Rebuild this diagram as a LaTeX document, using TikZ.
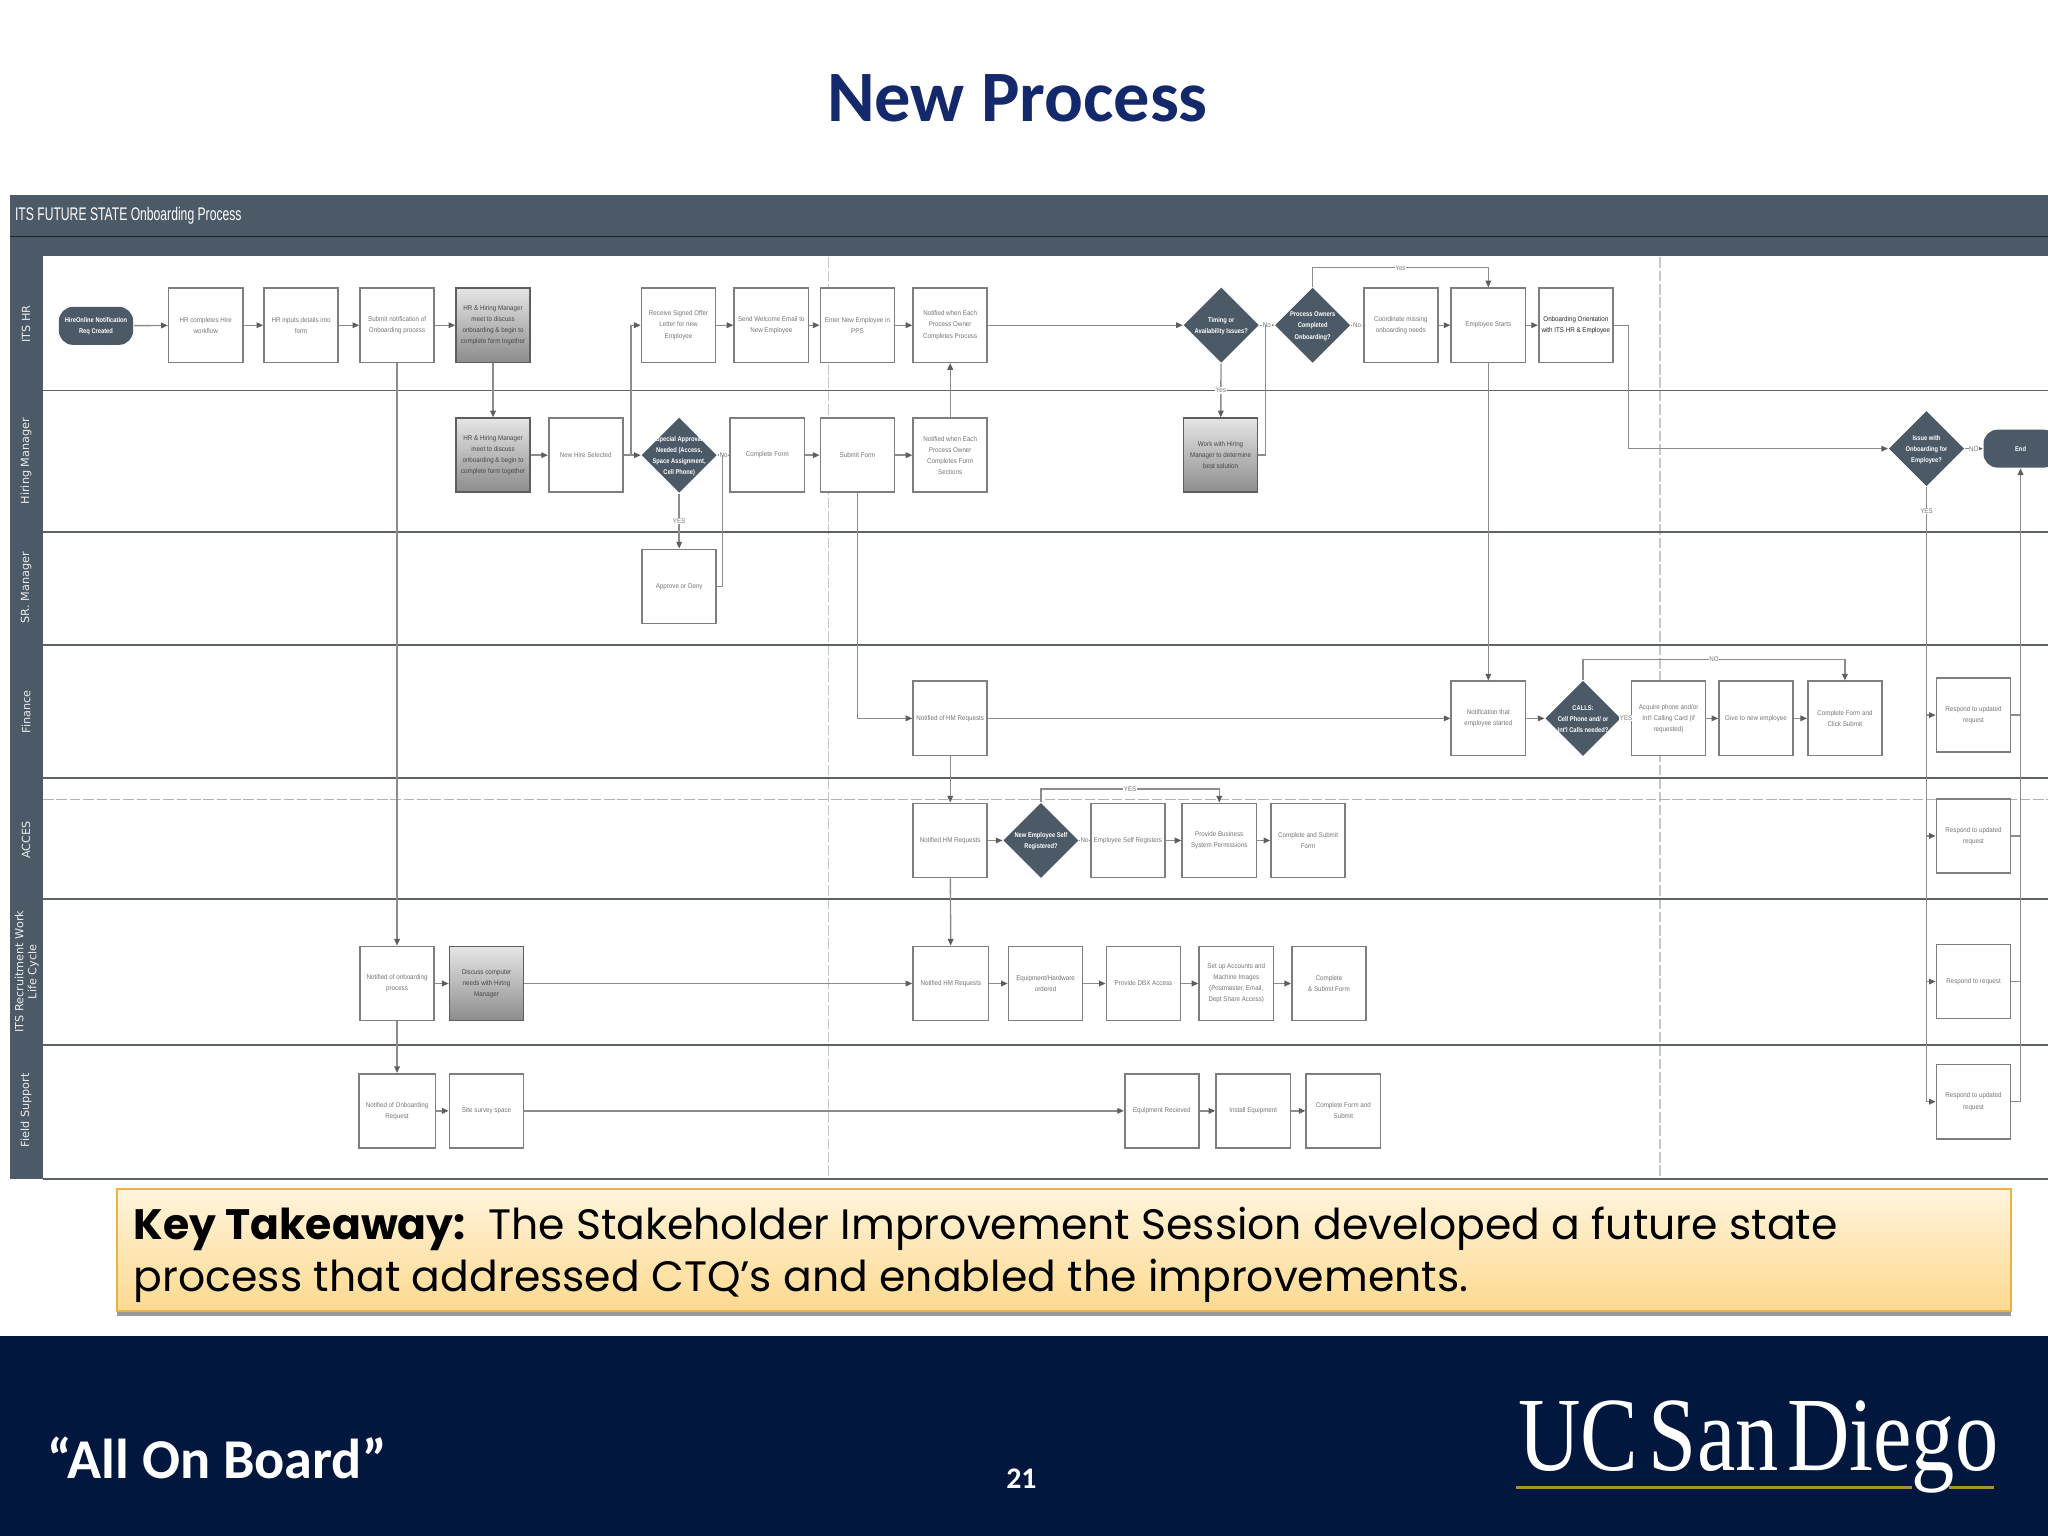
\documentclass[tikz,border=0pt]{standalone}
\usepackage{fontspec}
\usetikzlibrary{arrows.meta,shapes.geometric,shadows}
\newfontfamily\boxfont[FakeStretch=0.91]{Liberation Sans}
\newfontfamily\diafont[FakeStretch=0.84]{Liberation Sans}
\newfontfamily\lanefont{DejaVu Sans}
\newfontfamily\slidefont{Carlito}
\newfontfamily\headfont[FakeStretch=0.665]{Liberation Sans}
\newfontfamily\keyfont{Poppins}
\newfontfamily\logofont[FakeStretch=0.82]{Liberation Serif}
\definecolor{slatefill}{HTML}{4C5A68}
\definecolor{lanerule}{HTML}{5C6268}
\definecolor{flowline}{HTML}{8C8C8C}
\definecolor{flowtip}{HTML}{5E5E5E}
\definecolor{boxline}{HTML}{7E7E7E}
\definecolor{boxtext}{HTML}{757575}
\definecolor{navytitle}{HTML}{14296B}
\definecolor{navyfoot}{HTML}{02173E}
\definecolor{goldrule}{HTML}{AC8F2E}
\definecolor{keytop}{HTML}{FFF4DC}
\definecolor{keybottom}{HTML}{FDD98F}
\definecolor{keyline}{HTML}{E9B244}
\newcommand{\dtext}[1]{\makebox[0pt]{\smash{\raisebox{-1.4pt}{\begin{tabular}{@{}c@{}}#1\end{tabular}}}}}
\tikzset{
  procbox/.style={rectangle,draw=boxline,line width=0.45pt,fill=white,text=boxtext,
    minimum width=21.1pt,minimum height=21.1pt,inner sep=0pt,align=center,
    font=\boxfont\fontsize{1.95}{3.15}\selectfont},
  procgrey/.style={procbox,draw=flowtip,top color=black!10,bottom color=black!45,text=black!72},
  decision/.style={diamond,fill=slatefill,text=white,minimum width=21.5pt,minimum height=21.5pt,
    inner sep=0pt,font=\diafont\bfseries\fontsize{1.95}{3.15}\selectfont},
  termin/.style={rectangle,rounded corners=4pt,fill=slatefill,text=white,minimum width=21.1pt,
    minimum height=10.8pt,inner sep=0pt,align=center,font=\diafont\bfseries\fontsize{1.95}{3.15}\selectfont},
  flowlabel/.style={fill=white,text=boxtext,inner sep=0.2pt,font=\boxfont\fontsize{1.95}{3.15}\selectfont},
  lanename/.style={rotate=90,text=white!92!black,align=center,font=\lanefont\fontsize{3.2}{3.7}\selectfont},
  flow/.style={draw=flowline,line width=0.4pt,-{Triangle[length=1.9pt,width=1.6pt,fill=flowtip,color=flowtip]}},
  wire/.style={draw=flowline,line width=0.4pt}
}
\begin{document}
\begin{tikzpicture}[x=0.013061cm,y=-0.013061cm]
  \useasboundingbox (0,0) rectangle (1568,1176);
  \clip (0,0) rectangle (1568,1176);
  \fill[white] (0,0) rectangle (1568,1176);
  \node[text=navytitle,font=\slidefont\bfseries\fontsize{20.6}{25}\selectfont] (title) at (779,75) {New Process};
  \fill[slatefill] (8,149) rectangle (1568,903);
  \fill[white] (33,196) rectangle (1568,903);
  \draw[black!60!slatefill,line width=0.3pt] (8,181) -- (1568,181);
  \node[text=white,anchor=west,inner sep=0pt,font=\headfont\fontsize{5.2}{6}\selectfont] (flowtitle) at (11,165) {ITS FUTURE STATE Onboarding Process};
  \foreach \lx in {634.5,1271}
    \draw[black!22,line width=0.35pt,dash pattern=on 3pt off 0.8pt] (\lx,197) -- (\lx,903);
  \draw[black!30,line width=0.35pt,dash pattern=on 3pt off 0.8pt] (33,612) -- (1568,612);
  \foreach \ly in {299,407,494,596,688,800,903}
    \draw[lanerule,line width=0.55pt] (33,\ly) -- (1568,\ly);
  \draw
    (20,248) node[lanename] (laneHR) {ITS HR}
    (20,353) node[lanename] (laneHM) {Hiring Manager}
    (20,450) node[lanename] (laneSR) {SR. Manager}
    (20,545) node[lanename] (laneFin) {Finance}
    (20,643) node[lanename] (laneAcc) {ACCES}
    (20.5,744) node[lanename] (laneRec) {ITS Recruitment Work\\Life Cycle}
    (20,850) node[lanename] (laneField) {Field Support};
  \draw
    (73.5,249.5) node[termin] (start) {HireOnline Notification\\Req Created}
    (157.5,249) node[procbox] (hrA) {HR completes Hire\\workflow}
    (230.5,249) node[procbox] (hrB) {HR inputs details into\\form}
    (304,249) node[procbox] (hrC) {Submit notification of\\Onboarding process}
    (377.5,249) node[procgrey] (hrD) {HR \& Hiring Manager\\meet to discuss\\onboarding \& begin to\\complete form together}
    (519.5,249) node[procbox] (hrE) {Receive Signed Offer\\Letter for new\\Employee}
    (590.5,249) node[procbox] (hrF) {Send Welcome Email to\\New Employee}
    (656.5,249) node[procbox] (hrG) {Enter New Employee in\\PPS}
    (727.5,249) node[procbox] (hrH) {Notified when Each\\Process Owner\\Completes Process}
    (935,249) node[decision] (hrQa) {\dtext{Timing or\\Availability Issues?}}
    (1005,249) node[decision] (hrQb) {\dtext{Process Owners\\Completed\\Onboarding?}}
    (1072.5,249) node[procbox] (hrI) {Coordinate missing\\onboarding needs}
    (1139.5,249) node[procbox] (hrJ) {Employee Starts}
    (1206.5,249) node[procbox,text=black!85] (hrK) {Onboarding Orientation\\with ITS HR \& Employee};
  \draw
    (377.5,348.5) node[procgrey] (hmA) {HR \& Hiring Manager\\meet to discuss\\onboarding \& begin to\\complete form together}
    (448.5,348.5) node[procbox] (hmB) {New Hire Selected}
    (520,348.5) node[decision] (hmQa) {\dtext{Special Approval\\Needed (Access,\\Space Assignment,\\Cell Phone)}}
    (587.5,348.5) node[procbox] (hmC) {Complete Form}
    (656.5,348.5) node[procbox] (hmD) {Submit Form}
    (727.5,348.5) node[procbox] (hmE) {Notified when Each\\Process Owner\\Completes Form\\Sections}
    (934.5,348.5) node[procgrey] (hmF) {Work with Hiring\\Manager to determine\\best solution}
    (1475,343.5) node[decision] (hmQb) {\dtext{Issue with\\Onboarding for\\Employee?}}
    (1547,343.5) node[termin] (finish) {End};
  \draw
    (520,449) node[procbox] (srA) {Approve or Deny};
  \draw
    (727.5,550) node[procbox] (finA) {Notified of HM Requests}
    (1139.5,550) node[procbox] (finB) {Notification that\\employee started}
    (1212,550) node[decision] (finQ) {\dtext{CALLS:\\Cell Phone and/ or\\Int'l Calls needed?}}
    (1277.5,550) node[procbox] (finC) {Acquire phone and/or\\Int'l Calling Card (if\\requested)}
    (1344.5,550) node[procbox] (finD) {Give to new employee}
    (1412.5,550) node[procbox] (finE) {Complete Form and\\Click Submit}
    (1511,547.5) node[procbox] (respA) {Respond to updated\\request};
  \draw
    (727.5,643.5) node[procbox] (accA) {Notified HM Requests}
    (797,643.5) node[decision] (accQ) {\dtext{New Employee Self\\Registered?}}
    (863.5,643.5) node[procbox] (accB) {Employee Self Registers}
    (933.5,643.5) node[procbox] (accC) {Provide Business\\System Permissions}
    (1001.5,643.5) node[procbox] (accD) {Complete and Submit\\Form}
    (1511,640) node[procbox] (respB) {Respond to updated\\request};
  \draw
    (304,753) node[procbox] (recA) {Notified of onboarding\\process}
    (372.5,753) node[procgrey] (recB) {Discuss computer\\needs with Hiring\\Manager}
    (728,753) node[procbox,minimum width=21.5pt] (recC) {Notified HM Requests}
    (800.5,753) node[procbox] (recD) {Equipment/Hardware\\ordered}
    (875.5,753) node[procbox] (recE) {Provide DBX Access}
    (946.5,753) node[procbox] (recF) {Set up Accounts and\\Machine Images\\(Postmaster, Email,\\Dept Share Access)}
    (1017.5,753) node[procbox] (recG) {Complete\\\& Submit Form}
    (1511,751.5) node[procbox] (respC) {Respond to request};
  \draw
    (304,850.5) node[procbox,minimum width=21.8pt] (fldA) {Notified of Onboarding\\Request}
    (372.5,850.5) node[procbox] (fldB) {Site survey space}
    (889.5,850.5) node[procbox] (fldC) {Equipment Recieved}
    (959.5,850.5) node[procbox] (fldD) {Install Equipment}
    (1028.5,850.5) node[procbox] (fldE) {Complete Form and\\Submit}
    (1511,843.5) node[procbox] (respD) {Respond to updated\\request};
  \coordinate (hireJoin) at (483,348.5);
  \coordinate (denyJoin) at (553,348.5);
  \coordinate (solveJoin) at (969,249);
  \coordinate (yesTop) at (1005,205);
  \coordinate (orientTurn) at (1247,249);
  \coordinate (callsTop) at (1212,505);
  \coordinate (selfTop) at (797,604);
  \begin{scope}[flow]
    \draw (start) to (hrA);
    \draw (hrA) to (hrB);
    \draw (hrB) to (hrC);
    \draw (hrC) to (hrD);
    \draw (hrD) to (hmA);
    \draw (hmA) to (hmB);
    \draw (hmB) to (hmQa);
    \draw (hireJoin) |- (hrE.west);
    \draw (hrE) to (hrF);
    \draw (hrF) to (hrG);
    \draw (hrG) to (hrH);
    \draw (hrH) to (hrQa);
    \draw (hmQa) to node[flowlabel] (noSpecial) {No} (hmC);
    \draw (hmQa) to node[flowlabel] (yesSpecial) {YES} (srA);
    \draw (hmC) to (hmD);
    \draw (hmD) to (hmE);
    \draw (hmE) to (hrH);
    \draw (hmD.south) |- (finA.west);
    \draw (finA) to (finB);
    \draw (finA) to (accA);
    \draw (accA) to (recC);
    \draw (hrC) to (recA);
    \draw (recA) to (recB);
    \draw (recA) to (fldA);
    \draw (recB) to (recC);
    \draw (fldA) to (fldB);
    \draw (fldB) to (fldC);
    \draw (fldC) to (fldD);
    \draw (fldD) to (fldE);
    \draw (recC) to (recD);
    \draw (recD) to (recE);
    \draw (recE) to (recF);
    \draw (recF) to (recG);
    \draw (accA) to (accQ);
    \draw (accQ) to node[flowlabel] (noSelf) {No} (accB);
    \draw (accB) to (accC);
    \draw (accC) to (accD);
    \draw (accQ.north) -- (selfTop) -| node[flowlabel,pos=.25] (yesSelf) {YES} (accC.north);
    \draw (hrQa) to node[flowlabel] (noTiming) {No} (hrQb);
    \draw (hrQa) to node[flowlabel] (yesTiming) {Yes} (hmF);
    \draw (hrQb) to node[flowlabel] (noOwners) {No} (hrI);
    \draw (hrI) to (hrJ);
    \draw (hrJ) to (hrK);
    \draw (hrQb.north) -- (yesTop) -| node[flowlabel,pos=.25] (yesOwners) {Yes} (hrJ.north);
    \draw (hrJ) to (finB);
    \draw (orientTurn) |- (hmQb.west);
    \draw (hmQb) to node[flowlabel] (noIssue) {NO} (finish);
    \draw (finB) to (finQ);
    \draw (finQ) to node[flowlabel] (yesCalls) {YES} (finC);
    \draw (finC) to (finD);
    \draw (finD) to (finE);
    \draw (finQ.north) -- (callsTop) -| node[flowlabel,pos=.25] (noCalls) {NO} (finE.north);
    \draw (hmQb.south |- respA.west) -- (respA.west);
    \draw (hmQb.south |- respB.west) -- (respB.west);
    \draw (hmQb.south |- respC.west) -- (respC.west);
    \draw (hmQb.south |- respD.west) -- (respD.west);
    \draw (respD.east) -| (finish.south);
  \end{scope}
  \begin{scope}[wire]
    \draw (srA.east) -| (denyJoin);
    \draw (hmF.east) -| (solveJoin);
    \draw (hrK.east) -- (orientTurn);
    \draw (hmQb.south) -- (hmQb.south |- respD.west);
    \draw (respA.east) -- (respA.east -| finish.south);
    \draw (respB.east) -- (respB.east -| finish.south);
    \draw (respC.east) -- (respC.east -| finish.south);
  \end{scope}
  \node[flowlabel] (yesIssue) at (1475,391) {YES};
  \node[rectangle,draw=keyline,line width=0.5pt,top color=keytop,bottom color=keybottom,
    drop shadow={shadow xshift=0pt,shadow yshift=-1.2pt,fill=black,opacity=.4},
    minimum width=539pt,minimum height=34.9pt,inner sep=0pt] (takeaway) at (814.5,957) {};
  \node[anchor=west,align=left,inner sep=0pt,text=black,font=\keyfont\fontsize{12.1}{14.8}\selectfont] (takeawayText) at (102,961) {\textbf{Key Takeaway:}\ \ The Stakeholder Improvement Session developed a future state\\process that addressed CTQ’s and enabled the improvements.};
  \fill[navyfoot] (0,1023) rectangle (1568,1176);
  \node[anchor=west,inner sep=0pt,text=white,font=\slidefont\bfseries\fontsize{16}{18}\selectfont] (deckname) at (36,1116) {“All On Board”};
  \node[text=white,inner sep=0pt,font=\slidefont\bfseries\fontsize{8.5}{10}\selectfont] (pagenum) at (782,1132) {21};
  \node[anchor=base west,inner sep=0pt,text=white,font=\logofont\fontsize{30}{32}\selectfont] (logo) at (1162,1126) {UC\hspace{.1em}San\hspace{.08em}Diego};
  \fill[goldrule] (1161,1137.5) rectangle (1464,1140);
  \fill[goldrule] (1492,1137.5) rectangle (1527,1140);
\end{tikzpicture}
\end{document}
